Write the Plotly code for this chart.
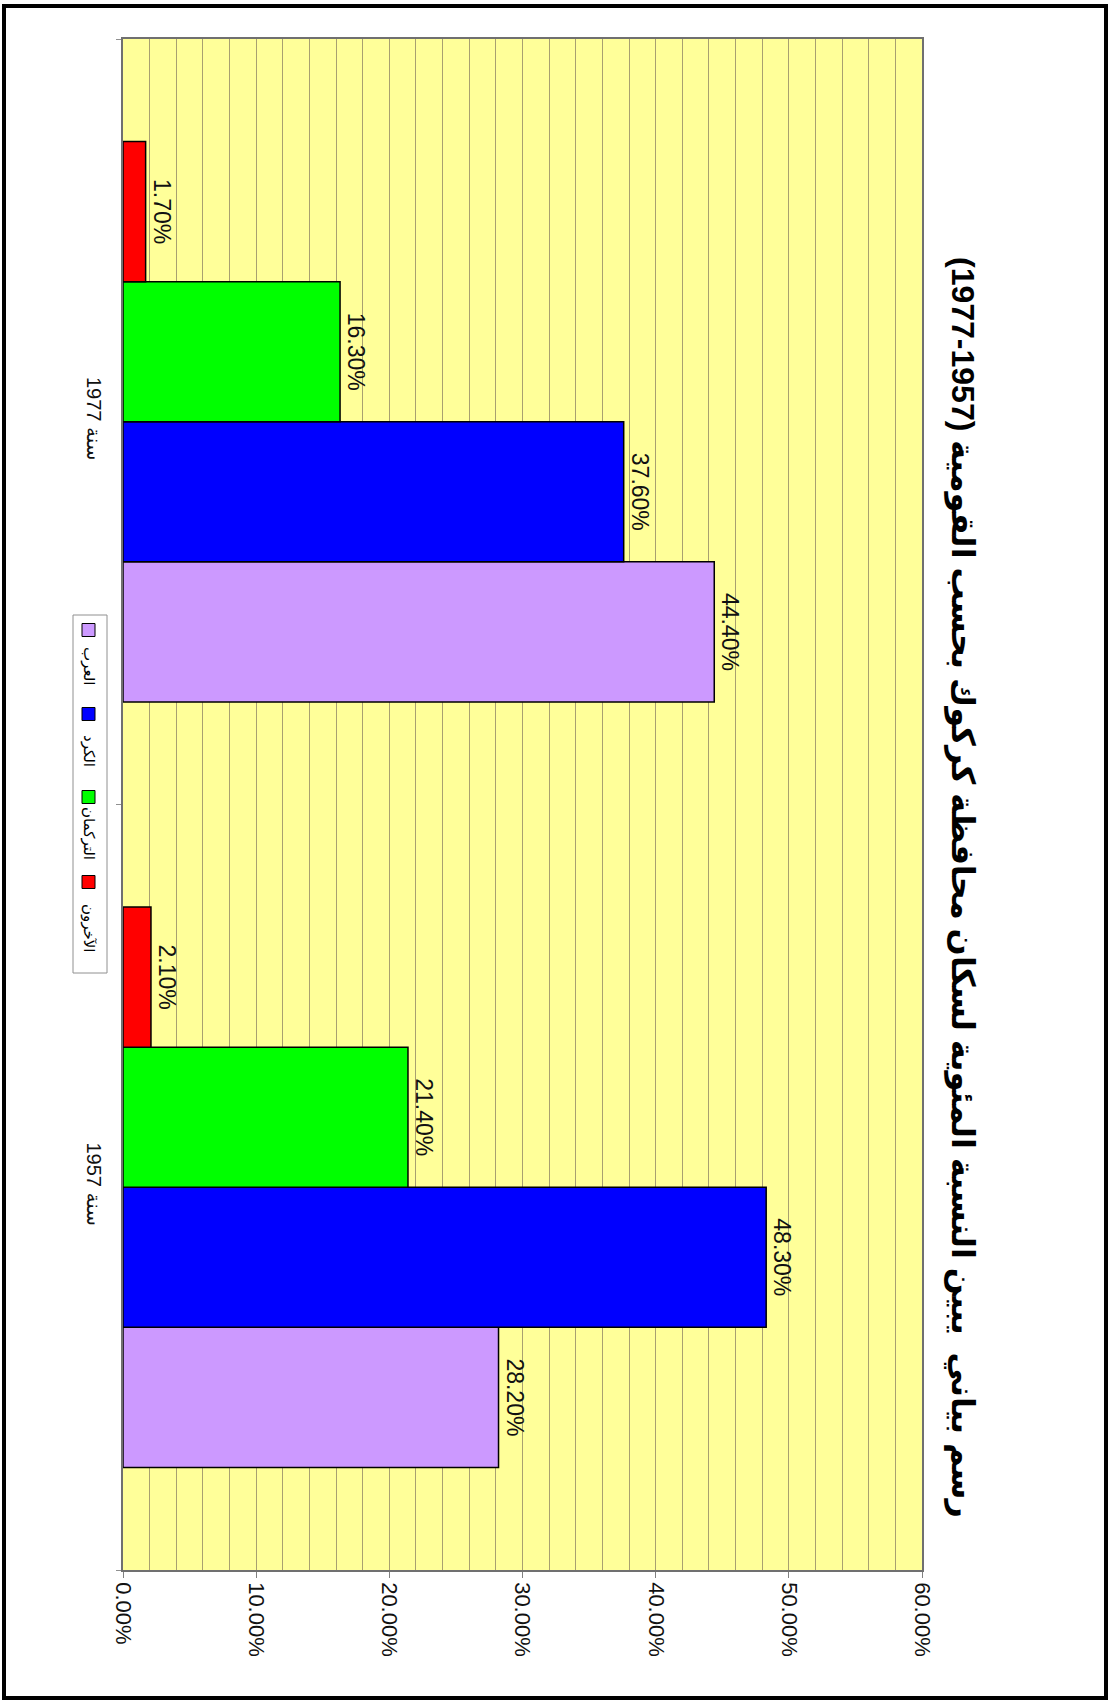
import plotly.graph_objects as go

# ---- data ----
years = ["1957", "1977"]
year_labels = ["1957 سنة", "1977 سنة"]
series_names = ["العرب", "الكرد", "التركمان", "الآخرون"]
arabs = [28.2, 44.4]
kurds = [48.3, 37.6]
turkmen = [21.4, 16.3]
others = [2.1, 1.7]
series_values = [arabs, kurds, turkmen, others]
series_colors = ["#CC99FF", "#0000FF", "#00FF00", "#FF0000"]
title_text = "(1977-1957) رسم بياني  يبين النسبة المئوية لسكان محافظة كركوك بحسب القومية"

W, H = 1117, 1703
L, R, T, B = 123, 195, 39, 133
PW, PH = W - L - R, H - T - B


def px(xp):
    return (xp - L) / PW


def py(yp):
    return (H - B - yp) / PH


FONT = "Liberation Sans, Arial, DejaVu Sans, sans-serif"

fig = go.Figure()
for name, vals, col in zip(series_names, series_values, series_colors):
    fig.add_trace(go.Bar(
        y=years, x=vals, name=name, orientation="h",
        marker=dict(color=col, line=dict(color="#000000", width=1.5)),
        texttemplate="%{x:.2f}%", textposition="outside", textangle=90,
        textfont=dict(family=FONT, size=23, color="#111111"),
        cliponaxis=False, showlegend=False,
    ))

shapes = []
annotations = []

# outer frame
shapes.append(dict(type="rect", xref="paper", yref="paper",
                   x0=px(4), x1=px(1106), y0=py(1698), y1=py(6),
                   line=dict(color="#000000", width=4), fillcolor="rgba(0,0,0,0)", layer="above"))

# custom rotated legend
shapes.append(dict(type="rect", xref="paper", yref="paper",
                   x0=px(73), x1=px(107), y0=py(973), y1=py(615),
                   line=dict(color="#909090", width=1), fillcolor="#FFFFFF", layer="below"))
sq_centers = [630, 714, 797, 882]
txt_centers = [666, 751, 833, 928]
for name, col, sc, tc in zip(series_names, series_colors, sq_centers, txt_centers):
    shapes.append(dict(type="rect", xref="paper", yref="paper",
                       x0=px(82), x1=px(95), y0=py(sc + 6.5), y1=py(sc - 6.5),
                       line=dict(color="#000000", width=1), fillcolor=col))
    annotations.append(dict(xref="paper", yref="paper", x=px(89), y=py(tc),
                            text=name, showarrow=False, textangle=90,
                            xanchor="center", yanchor="middle",
                            font=dict(family=FONT, size=15, color="#000000")))

# rotated title
annotations.append(dict(xref="paper", yref="paper", x=px(962), y=py(888),
                        text="<b>" + title_text + "</b>", showarrow=False, textangle=90,
                        xanchor="center", yanchor="middle",
                        font=dict(family=FONT, size=32, color="#000000")))

fig.update_layout(
    template="none",
    width=W, height=H,
    margin=dict(l=L, r=R, t=T, b=B, autoexpand=False),
    paper_bgcolor="#FFFFFF",
    plot_bgcolor="#FFFF99",
    barmode="group",
    bargap=0.268,
    bargroupgap=0,
    showlegend=False,
    shapes=shapes,
    annotations=annotations,
    xaxis=dict(
        range=[0, 60], dtick=10, tick0=0,
        tickformat=".2f", ticksuffix="%", tickangle=90,
        tickfont=dict(family=FONT, size=22, color="#111111"),
        showgrid=True, gridcolor="#A8A070", gridwidth=1,
        minor=dict(dtick=2, showgrid=True, gridcolor="#A8A070", gridwidth=1),
        ticks="outside", ticklen=6, tickcolor="#808080",
        showline=True, linecolor="#707070", linewidth=1.5, mirror=True,
        zeroline=False, automargin=False, fixedrange=True,
    ),
    yaxis=dict(
        type="category", categoryorder="array", categoryarray=years,
        tickvals=years, ticktext=year_labels, tickangle=90,
        tickfont=dict(family=FONT, size=20, color="#111111"),
        tickson="boundaries", ticks="outside", ticklen=5, tickcolor="#909090",
        ticklabelstandoff=10,
        showgrid=False, showline=True, linecolor="#707070", linewidth=1.5, mirror=True,
        zeroline=False, automargin=False, fixedrange=True,
    ),
)

fig.write_html("out.html")
